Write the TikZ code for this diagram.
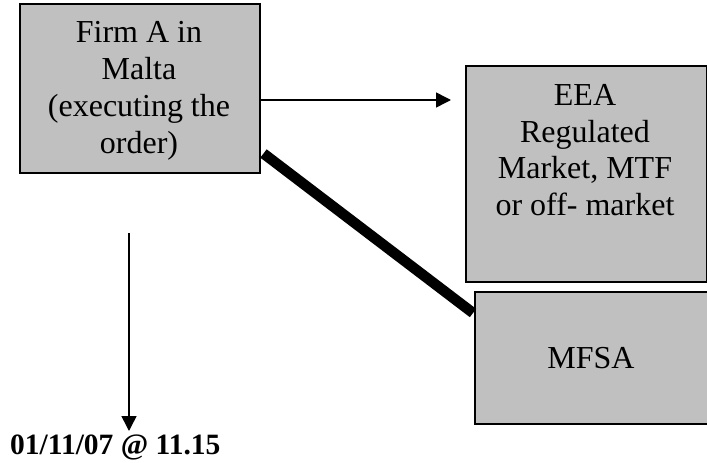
\documentclass[tikz,border=0pt]{standalone}
\usepackage{fontspec}
\setmainfont{Liberation Serif}
\usetikzlibrary{arrows.meta}
\definecolor{boxgray}{HTML}{C0C0C0}
\tikzset{
  greybox/.style={draw=black, line width=1.5pt, fill=boxgray, inner sep=0pt},
  boxtext/.style={inner sep=0pt, align=center, font=\fontsize{32}{36.8}\selectfont},
  arrowline/.style={line width=1.5pt, -{Triangle[length=15pt,width=15pt]}},
  thickbar/.style={line width=10.5pt},
}
\begin{document}
\begin{tikzpicture}[x=1pt,y=-1pt]
\useasboundingbox (0,0) rectangle (707,463);
% boxes
\node[greybox, minimum width=240pt, minimum height=169pt, anchor=north west] (firm) at (19,3) {};
\node[boxtext, anchor=north] (firmtext) at (139,21.5)
  {Firm A in\\Malta\\(executing the\\order)};
\node[greybox, minimum width=241pt, minimum height=216pt, anchor=north west] (eea) at (465,65) {};
\node[boxtext, anchor=north] (eeatext) at (585,84)
  {EEA\\Regulated\\Market, MTF\\or off- market};
\node[greybox, minimum width=240pt, minimum height=132pt, anchor=north west] (mfsa) at (474,291) {};
\node[boxtext, anchor=base] (mfsatext) at (591,368) {MFSA};
% date label
\node[inner sep=0pt, anchor=base west, font=\fontsize{29.5}{34}\bfseries] (date) at (10,454)
  {01/11/07 @ 11.15};
% connector end points
\coordinate (hend) at (451,100);
\coordinate (vstart) at (129,233);
\coordinate (vend) at (129,431);
% connectors
\draw[arrowline] (firm.east |- hend) -- (hend);
\draw[thickbar] ([shift={(3,-20)}]firm.south east) -- ([shift={(-1,22)}]mfsa.north west);
\draw[arrowline] (vstart) -- (vend);
\end{tikzpicture}
\end{document}
